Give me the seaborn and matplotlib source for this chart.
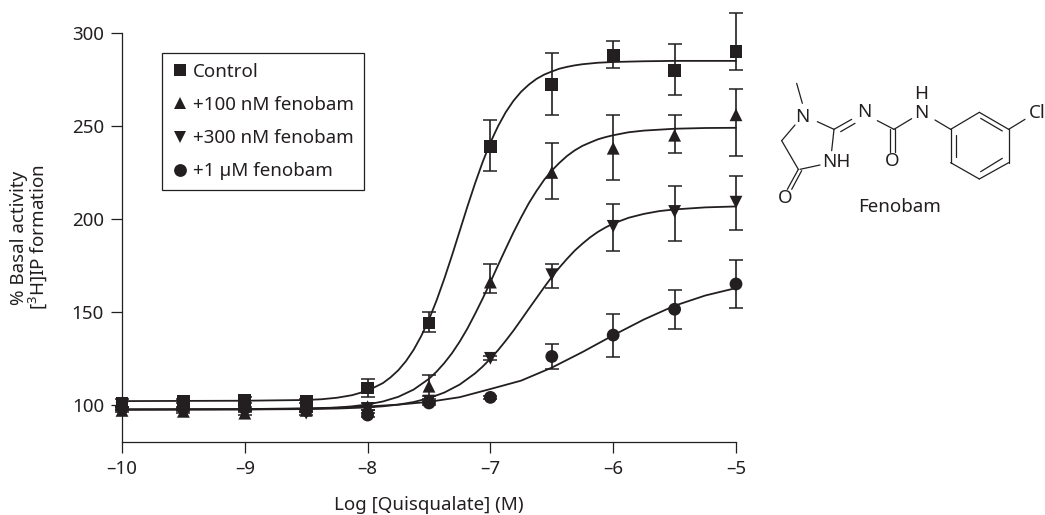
# Quisqualate concentration-response with fenobam, plus the fenobam structure

import pandas as pd
import matplotlib
matplotlib.use('Agg')
import matplotlib.pyplot as plt
import seaborn as sns

series_names = ['Control', '+100 nM fenobam', '+300 nM fenobam', '+1 µM fenobam']
x_ticks = [-10, -9, -8, -7, -6, -5]
x_tick_labels = ['–10', '–9', '–8', '–7', '–6', '–5']
y_ticks = [100, 150, 200, 250, 300]

# measured points
dose = [-10, -9.5, -9, -8.5, -8, -7.5, -7, -6.5, -6, -5.5, -5]
control = [101, 102, 102.5, 102, 109, 144, 239, 272.5, 288, 280, 290]
control_hi = [103, 103, 104, 103, 114, 150, 253, 289, 295.7, 294, 310.8]
control_lo = [99, 101, 101, 101, 104, 139, 225.7, 256, 281.3, 266.5, 280]
nm100 = [97, 96.5, 95.5, 97, 99, 110, 166, 225, 238, 245, 256]
nm100_hi = [98, 97.5, 96.5, 98, 101, 116, 175.6, 241, 255.7, 256, 270]
nm100_lo = [96, 95.5, 94.5, 96, 97, 105, 160, 210.5, 221, 235.4, 233.6]
nm300 = [98, 97.5, 97, 95.5, 98, 102, 125, 170, 196, 204, 209]
nm300_hi = [99, 98.5, 98, 96.5, 99, 103, 126, 175.7, 208, 217.8, 223]
nm300_lo = [97, 96.5, 96, 94.5, 97, 101, 124, 162.7, 182.8, 188, 194]
um1 = [98, 98, 98, 97, 94.5, 101, 104, 126, 137.5, 151.4, 165]
um1_hi = [99, 99, 99, 98, 95.5, 102, 105, 132.6, 149, 162, 178]
um1_lo = [97, 97, 97, 96, 93.5, 100, 103, 119, 125.6, 140.8, 152]

# fitted curves
control_x = [-10, -9, -8.5, -8.375, -8.25, -8.125, -8, -7.875, -7.8125, -7.75, -7.6875, -7.625, -7.5625, -7.5,
             -7.4375, -7.375, -7.3125, -7.25, -7.1875, -7.125, -7.0625, -7, -6.9375, -6.875, -6.8125, -6.75,
             -6.6875, -6.625, -6.5625, -6.5, -6.4375, -6.375, -6.3125, -6.25, -6.1875, -6.125, -6, -5.75,
             -5.5, -5.25, -5]
control_fit = [102, 102.2, 102.6, 103, 103.8, 105.2, 107.6, 111.7, 114.8, 118.6, 123.5, 129.6, 137.1, 145.9,
               156.3, 167.9, 180.4, 193.5, 206.6, 219.1, 230.7, 241.1, 249.9, 257.4, 263.5, 268.4,
               272.2, 275.3, 277.6, 279.3, 280.8, 281.8, 282.6, 283.2, 283.6, 284, 284.4, 284.8,
               285, 285, 285]
nm100_x = [-10, -9, -8.5, -8.375, -8.25, -8.125, -8, -7.875, -7.75, -7.625, -7.5, -7.4375, -7.375, -7.3125,
           -7.25, -7.1875, -7.125, -7.0625, -7, -6.9375, -6.875, -6.8125, -6.75, -6.6875, -6.625, -6.5625,
           -6.5, -6.4375, -6.375, -6.3125, -6.25, -6.1875, -6.125, -6.0625, -6, -5.875, -5.75, -5.625,
           -5.5, -5.25, -5]
nm100_fit = [97.5, 97.6, 97.9, 98.1, 98.5, 99.2, 100.2, 101.8, 104.3, 108.2, 114, 117.9, 122.5, 127.8,
             134, 141, 148.9, 157.2, 166, 175.1, 184, 192.7, 200.8, 208.4, 215, 221,
             226, 230.2, 233.9, 236.9, 239.3, 241.1, 242.8, 244, 245, 246.6, 247.5, 248,
             248.5, 248.9, 249]
nm300_x = [-10, -9, -8.5, -8.25, -8, -7.875, -7.75, -7.625, -7.5, -7.375, -7.25, -7.125, -7.0625, -7, -6.9375,
           -6.875, -6.8125, -6.75, -6.6875, -6.625, -6.5625, -6.5, -6.4375, -6.375, -6.3125, -6.25, -6.1875,
           -6.125, -6.0625, -6, -5.875, -5.75, -5.625, -5.5, -5.25, -5]
nm300_fit = [97.4, 97.5, 97.7, 98, 98.6, 99.2, 100.1, 101.5, 103.6, 106.6, 110.9, 116.9, 120.6, 124.8, 129.4,
             134.5, 139.9, 145.7, 151.6, 157.4, 163.2, 168.8, 173.9, 178.6, 183, 186.7, 190.1,
             193, 195.4, 197.5, 200.6, 202.7, 204.2, 205.1, 206.2, 206.7]
um1_x = [-10, -9, -8.5, -8.25, -8, -7.75, -7.5, -7.25, -7, -6.75, -6.5, -6.25, -6, -5.75, -5.5, -5.25, -5]
um1_fit = [97.5, 97.7, 98.1, 98.5, 99.1, 100.1, 101.6, 104.1, 108.5, 113, 120, 128.4, 137.4, 145.9,
           153.3, 158.8, 162.8]

ink = '#231f20'
font_size = 13.5

sns.set_theme(style='ticks')
plt.rcParams['font.family'] = ['Noto Sans', 'DejaVu Sans']
plt.rcParams['mathtext.default'] = 'regular'
plt.rcParams['text.color'] = ink
plt.rcParams['axes.labelcolor'] = ink
plt.rcParams['xtick.labelcolor'] = ink
plt.rcParams['ytick.labelcolor'] = ink

points = pd.concat([
    pd.DataFrame({'dose': dose, 'value': control, 'series': series_names[0]}),
    pd.DataFrame({'dose': dose, 'value': nm100, 'series': series_names[1]}),
    pd.DataFrame({'dose': dose, 'value': nm300, 'series': series_names[2]}),
    pd.DataFrame({'dose': dose, 'value': um1, 'series': series_names[3]}),
])
curves = pd.concat([
    pd.DataFrame({'dose': control_x, 'value': control_fit, 'series': series_names[0]}),
    pd.DataFrame({'dose': nm100_x, 'value': nm100_fit, 'series': series_names[1]}),
    pd.DataFrame({'dose': nm300_x, 'value': nm300_fit, 'series': series_names[2]}),
    pd.DataFrame({'dose': um1_x, 'value': um1_fit, 'series': series_names[3]}),
])

fig = plt.figure(figsize=(10.45, 5.15), dpi=100)
ax = fig.add_axes([122 / 1045, (515 - 442) / 515, (736 - 122) / 1045, (442 - 33) / 515])

sns.lineplot(x='dose', y='value', units='series', estimator=None, data=curves, color=ink, linewidth=1.3,
             legend=False, clip_on=False, ax=ax)

for vals, hi, lo in [(control, control_hi, control_lo), (nm100, nm100_hi, nm100_lo),
                     (nm300, nm300_hi, nm300_lo), (um1, um1_hi, um1_lo)]:
    ax.errorbar(dose, vals, yerr=[[v - l for v, l in zip(vals, lo)], [h - v for h, v in zip(hi, vals)]],
                fmt='none', ecolor=ink, elinewidth=1.2, capsize=5, capthick=1.1, clip_on=False)

sns.scatterplot(x='dose', y='value', hue='series', style='series', data=points,
                palette=[ink] * 4, markers=['s', '^', 'v', 'o'], s=85, linewidth=0,
                clip_on=False, zorder=3, ax=ax)

ax.set_xlim(-10, -5)
ax.set_ylim(80, 300)
ax.set_xticks(x_ticks)
ax.set_xticklabels(x_tick_labels)
ax.set_yticks(y_ticks)
ax.tick_params(labelsize=font_size, length=8, width=0.9, color=ink, pad=5)
ax.set_xlabel('Log [Quisqualate] (M)', fontsize=font_size, labelpad=13)
ax.set_ylabel('% Basal activity\n[$^{3}$H]IP formation', fontsize=font_size, labelpad=16, linespacing=0.95)
for side in ['left', 'bottom']:
    ax.spines[side].set_linewidth(0.9)
    ax.spines[side].set_color(ink)
sns.despine(ax=ax)

handles, labels = ax.get_legend_handles_labels()
leg = ax.legend(handles, labels, loc='upper left', bbox_to_anchor=((162 - 122) / 614, (442 - 53) / 409),
                borderaxespad=0, fontsize=font_size, frameon=True, fancybox=False, framealpha=1, edgecolor=ink,
                handletextpad=0.27, labelspacing=0.81, borderpad=0.52, handlelength=0.85)
leg.get_frame().set_linewidth(0.9)

# structure of fenobam, drawn in pixel coordinates of the crop
st = fig.add_axes([0, 0, 1, 1])
st.set_xlim(0, 1045)
st.set_ylim(515, 0)
st.axis('off')
st.patch.set_alpha(0)


def bond(x1, y1, x2, y2):
    st.plot([770 + x1 / 3, 770 + x2 / 3], [70 + y1 / 3, 70 + y2 / 3], color=ink, lw=0.9, solid_capstyle='round')


def atom(x, y, label):
    st.text(770 + x / 3, 70 + y / 3, label, ha='center', va='center', fontsize=font_size, color=ink)


bonds = [(80, 40, 97, 100), (75, 165, 35, 212), (35, 212, 85, 298), (85, 298, 52, 358), (95, 302, 65, 358),
         (90, 298, 150, 285), (185, 242, 192, 178), (142, 155, 192, 178), (192, 178, 245, 148),
         (212, 185, 255, 160), (322, 152, 372, 178), (372, 178, 425, 146), (360, 178, 360, 245),
         (376, 178, 376, 245), (495, 150, 542, 178), (542, 178, 628, 127), (628, 127, 716, 178),
         (716, 178, 716, 278), (716, 278, 628, 327), (628, 327, 542, 278), (542, 278, 542, 178),
         (558, 195, 558, 262), (632, 145, 697, 183), (632, 305, 697, 265), (716, 178, 765, 148)]
for b in bonds:
    bond(*b)

for a in [(97, 140, 'N'), (47, 383, 'O'), (200, 275, 'NH'), (282, 127, 'N'), (367, 272, 'O'),
          (453, 130, 'N'), (453, 72, 'H'), (803, 130, 'Cl'), (390, 412, 'Fenobam')]:
    atom(*a)

fig.savefig('out.png', dpi=100)
